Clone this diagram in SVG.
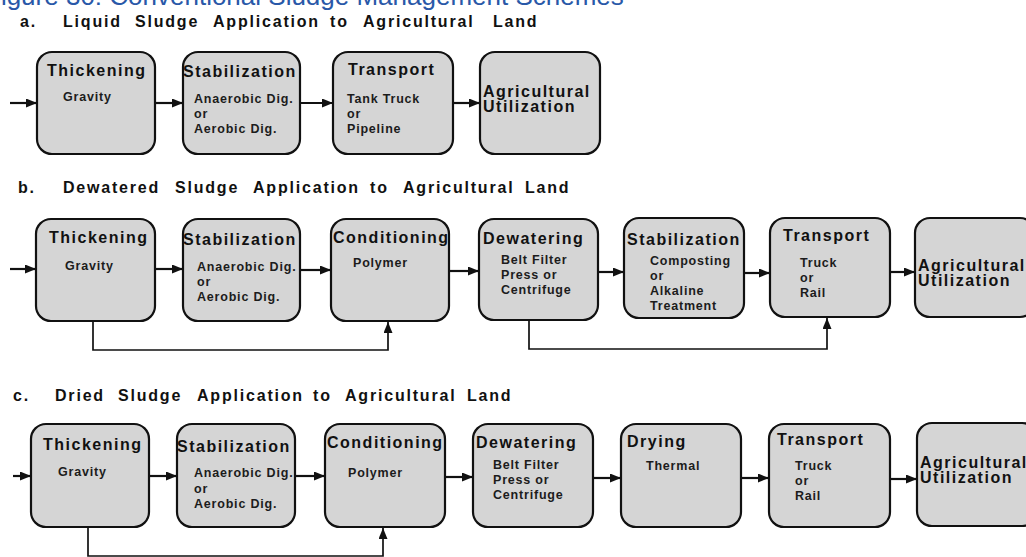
<svg xmlns="http://www.w3.org/2000/svg" width="1026" height="557" viewBox="0 0 1026 557">
<style>
.bg{fill:#ffffff}
.box{fill:#d5d5d5;stroke:#111;stroke-width:2.2}
.hd{font-family:"Liberation Sans",Arial,sans-serif;font-weight:bold;font-size:16px;letter-spacing:1.5px;fill:#111}
.sub{font-family:"Liberation Sans",Arial,sans-serif;font-weight:bold;font-size:12.5px;letter-spacing:0.8px;fill:#1c1c1c}
.ttl{font-family:"Liberation Sans",Arial,sans-serif;font-weight:bold;font-size:16px;letter-spacing:1.8px;fill:#111}
.fig{font-family:"Liberation Sans",Arial,sans-serif;font-size:26px;fill:#2958a8}
.flow{fill:none;stroke:#111;stroke-width:2.2}
.fb{fill:none;stroke:#111;stroke-width:1.7}
</style>
<defs>
<marker id="ah" markerUnits="userSpaceOnUse" markerWidth="11" markerHeight="9" refX="11" refY="4.5" orient="auto">
<path d="M0,0 L11,4.5 L0,9 z" fill="#111"/>
</marker>
</defs>
<rect class="bg" x="0" y="0" width="1026" height="557"/>

<g id="figure-title">
<text class="fig" x="-15" y="5">Figure 30: Conventional Sludge Management Schemes</text>
</g>

<g id="title-a">
<text class="ttl" y="27"><tspan x="20">a.</tspan><tspan x="63">Liquid</tspan><tspan x="135">Sludge</tspan><tspan x="213">Application</tspan><tspan x="330">to</tspan><tspan x="363">Agricultural</tspan><tspan x="493">Land</tspan></text>
</g>
<g id="title-b">
<text class="ttl" y="193"><tspan x="18">b.</tspan><tspan x="63">Dewatered</tspan><tspan x="175">Sludge</tspan><tspan x="253">Application</tspan><tspan x="370">to</tspan><tspan x="403">Agricultural</tspan><tspan x="525">Land</tspan></text>
</g>
<g id="title-c">
<text class="ttl" y="401"><tspan x="13">c.</tspan><tspan x="55">Dried</tspan><tspan x="118">Sludge</tspan><tspan x="197">Application</tspan><tspan x="313">to</tspan><tspan x="345">Agricultural</tspan><tspan x="467">Land</tspan></text>
</g>

<!-- Row a -->
<g id="a-thickening">
<rect class="box" x="37" y="52" width="118" height="102" rx="15"/>
<text class="hd" x="47" y="76">Thickening</text>
<text class="sub" x="63" y="101">Gravity</text>
</g>
<g id="a-stabilization">
<rect class="box" x="183" y="52" width="117" height="102" rx="15"/>
<text class="hd" x="183" y="77">Stabilization</text>
<text class="sub" x="194" y="103">Anaerobic Dig.</text>
<text class="sub" x="194" y="118" letter-spacing="2">or</text>
<text class="sub" x="194" y="133">Aerobic Dig.</text>
</g>
<g id="a-transport">
<rect class="box" x="333" y="52" width="120" height="102" rx="15"/>
<text class="hd" x="348" y="75">Transport</text>
<text class="sub" x="347" y="103">Tank Truck</text>
<text class="sub" x="347" y="118" letter-spacing="2">or</text>
<text class="sub" x="347" y="133">Pipeline</text>
</g>
<g id="a-agricultural">
<rect class="box" x="480" y="52" width="120" height="102" rx="15"/>
<text class="hd" x="483" y="97">Agricultural</text>
<text class="hd" x="483" y="112">Utilization</text>
</g>

<!-- Row b -->
<g id="b-thickening">
<rect class="box" x="36" y="219" width="119" height="102" rx="15"/>
<text class="hd" x="49" y="243">Thickening</text>
<text class="sub" x="65" y="270">Gravity</text>
</g>
<g id="b-stabilization">
<rect class="box" x="183" y="219" width="117" height="102" rx="15"/>
<text class="hd" x="183" y="245">Stabilization</text>
<text class="sub" x="197" y="271">Anaerobic Dig.</text>
<text class="sub" x="197" y="286" letter-spacing="2">or</text>
<text class="sub" x="197" y="301">Aerobic Dig.</text>
</g>
<g id="b-conditioning">
<rect class="box" x="331" y="219" width="118" height="102" rx="15"/>
<text class="hd" x="333" y="243">Conditioning</text>
<text class="sub" x="353" y="267">Polymer</text>
</g>
<g id="b-dewatering">
<rect class="box" x="479" y="219" width="119" height="101" rx="15"/>
<text class="hd" x="483" y="244">Dewatering</text>
<text class="sub" x="501" y="264">Belt Filter</text>
<text class="sub" x="501" y="279">Press or</text>
<text class="sub" x="501" y="294">Centrifuge</text>
</g>
<g id="b-stabilization2">
<rect class="box" x="624" y="218" width="120" height="100" rx="15"/>
<text class="hd" x="627" y="245">Stabilization</text>
<text class="sub" x="650" y="265">Composting</text>
<text class="sub" x="650" y="280" letter-spacing="2">or</text>
<text class="sub" x="650" y="295">Alkaline</text>
<text class="sub" x="650" y="310">Treatment</text>
</g>
<g id="b-transport">
<rect class="box" x="770" y="218" width="120" height="99" rx="15"/>
<text class="hd" x="783" y="241">Transport</text>
<text class="sub" x="800" y="267">Truck</text>
<text class="sub" x="800" y="282" letter-spacing="2">or</text>
<text class="sub" x="800" y="297">Rail</text>
</g>
<g id="b-agricultural">
<rect class="box" x="915" y="218" width="120" height="99" rx="15"/>
<text class="hd" x="918" y="271">Agricultural</text>
<text class="hd" x="918" y="286">Utilization</text>
</g>

<!-- Row c -->
<g id="c-thickening">
<rect class="box" x="31" y="424" width="118" height="103" rx="15"/>
<text class="hd" x="43" y="450">Thickening</text>
<text class="sub" x="58" y="476">Gravity</text>
</g>
<g id="c-stabilization">
<rect class="box" x="177" y="424" width="118" height="103" rx="15"/>
<text class="hd" x="177" y="452">Stabilization</text>
<text class="sub" x="194" y="477">Anaerobic Dig.</text>
<text class="sub" x="194" y="493" letter-spacing="2">or</text>
<text class="sub" x="194" y="508">Aerobic Dig.</text>
</g>
<g id="c-conditioning">
<rect class="box" x="325" y="424" width="120" height="103" rx="15"/>
<text class="hd" x="327" y="448">Conditioning</text>
<text class="sub" x="348" y="477">Polymer</text>
</g>
<g id="c-dewatering">
<rect class="box" x="473" y="424" width="120" height="103" rx="15"/>
<text class="hd" x="476" y="448">Dewatering</text>
<text class="sub" x="493" y="469">Belt Filter</text>
<text class="sub" x="493" y="484">Press or</text>
<text class="sub" x="493" y="499">Centrifuge</text>
</g>
<g id="c-drying">
<rect class="box" x="621" y="424" width="120" height="103" rx="15"/>
<text class="hd" x="627" y="447">Drying</text>
<text class="sub" x="646" y="470">Thermal</text>
</g>
<g id="c-transport">
<rect class="box" x="769" y="424" width="121" height="103" rx="15"/>
<text class="hd" x="777" y="445">Transport</text>
<text class="sub" x="795" y="470">Truck</text>
<text class="sub" x="795" y="485" letter-spacing="2">or</text>
<text class="sub" x="795" y="500">Rail</text>
</g>
<g id="c-agricultural">
<rect class="box" x="917" y="423" width="120" height="103" rx="15"/>
<text class="hd" x="920" y="468">Agricultural</text>
<text class="hd" x="920" y="483">Utilization</text>
</g>

<g id="connectors">
<line class="flow" x1="10" y1="103" x2="37" y2="103" marker-end="url(#ah)"/>
<line class="flow" x1="155" y1="103" x2="183" y2="103" marker-end="url(#ah)"/>
<line class="flow" x1="300" y1="103" x2="333" y2="103" marker-end="url(#ah)"/>
<line class="flow" x1="453" y1="103" x2="480" y2="103" marker-end="url(#ah)"/>

<line class="flow" x1="10" y1="269" x2="36" y2="269" marker-end="url(#ah)"/>
<line class="flow" x1="155" y1="269" x2="183" y2="269" marker-end="url(#ah)"/>
<line class="flow" x1="300" y1="270" x2="331" y2="270" marker-end="url(#ah)"/>
<line class="flow" x1="449" y1="271" x2="479" y2="271" marker-end="url(#ah)"/>
<line class="flow" x1="598" y1="272" x2="624" y2="272" marker-end="url(#ah)"/>
<line class="flow" x1="744" y1="273" x2="770" y2="273" marker-end="url(#ah)"/>
<line class="flow" x1="890" y1="272" x2="915" y2="272" marker-end="url(#ah)"/>

<line class="flow" x1="13" y1="476" x2="31" y2="476" marker-end="url(#ah)"/>
<line class="flow" x1="149" y1="476" x2="177" y2="476" marker-end="url(#ah)"/>
<line class="flow" x1="295" y1="476" x2="325" y2="476" marker-end="url(#ah)"/>
<line class="flow" x1="445" y1="477" x2="473" y2="477" marker-end="url(#ah)"/>
<line class="flow" x1="593" y1="478" x2="621" y2="478" marker-end="url(#ah)"/>
<line class="flow" x1="741" y1="478" x2="769" y2="478" marker-end="url(#ah)"/>
<line class="flow" x1="890" y1="479" x2="917" y2="479" marker-end="url(#ah)"/>

<path class="fb" d="M93,321 V350 H388 V322" marker-end="url(#ah)"/>
<path class="fb" d="M529,320 V349 H827 V318" marker-end="url(#ah)"/>
<path class="fb" d="M88,527 V556 H383 V528" marker-end="url(#ah)"/>
</g>
</svg>
